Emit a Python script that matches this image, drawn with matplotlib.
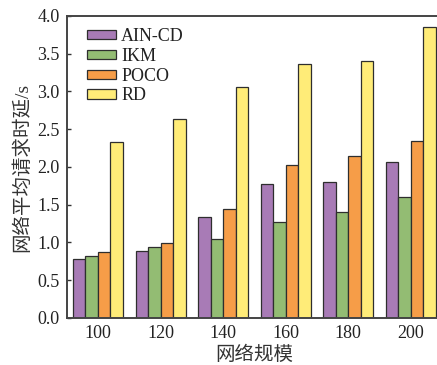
import numpy as np
import matplotlib
matplotlib.use("Agg")
import matplotlib.pyplot as plt

# Network sizes and mean request latency (s) for each caching scheme
sizes = ["100", "120", "140", "160", "180", "200"]
series_names = ["AIN-CD", "IKM", "POCO", "RD"]
ain_cd = [0.78, 0.89, 1.34, 1.775, 1.805, 2.06]
ikm = [0.825, 0.945, 1.04, 1.27, 1.40, 1.60]
poco = [0.88, 0.99, 1.44, 2.02, 2.14, 2.35]
rd = [2.335, 2.63, 3.055, 3.36, 3.40, 3.85]
y_ticks = [0.0, 0.5, 1.0, 1.5, 2.0, 2.5, 3.0, 3.5, 4.0]

colors = ["#A87BB6", "#93BC73", "#F69D48", "#FFEC78"]
serif = ["Liberation Serif", "Noto Sans CJK SC"]
plt.rcParams["font.family"] = serif

fig = plt.figure(figsize=(4.37, 3.65), dpi=100)
ax = fig.add_axes([0.1526, 0.1288, 0.859, 0.8274])

x = np.arange(len(sizes))
w = 0.2
for i, (name, vals) in enumerate(zip(series_names, [ain_cd, ikm, poco, rd])):
    ax.bar(x + (i - 1.5) * w, vals, width=w, color=colors[i],
           edgecolor="#2e2e2e", linewidth=0.9, label=name)

ax.set_xlim(-0.5, 5.5)
ax.set_ylim(0, 4.0)
ax.set_xticks(x)
ax.set_xticklabels(sizes)
ax.set_yticks(y_ticks)
ax.set_yticklabels([f"{t:.1f}" for t in y_ticks])
ax.tick_params(axis="y", direction="in", length=3, width=1, colors="#333333",
               labelsize=13, labelcolor="#222222", pad=5)
ax.tick_params(axis="x", length=0, labelsize=13, labelcolor="#222222", pad=5)

for s in ax.spines.values():
    s.set_color("#444444")
    s.set_linewidth(1.4)

ax.set_xlabel("网络规模", fontsize=14, color="#333333", labelpad=3)
ax.set_ylabel("网络平均请求时延/s", fontsize=14, color="#333333", labelpad=4)

leg = ax.legend(loc="upper left", bbox_to_anchor=(0.025, 0.995), frameon=False,
                fontsize=13, handlelength=1.6, handleheight=0.4,
                labelspacing=0.15, handletextpad=0.3, borderaxespad=0.2)
for t in leg.get_texts():
    t.set_color("#222222")

fig.savefig("out.png", dpi=100)
